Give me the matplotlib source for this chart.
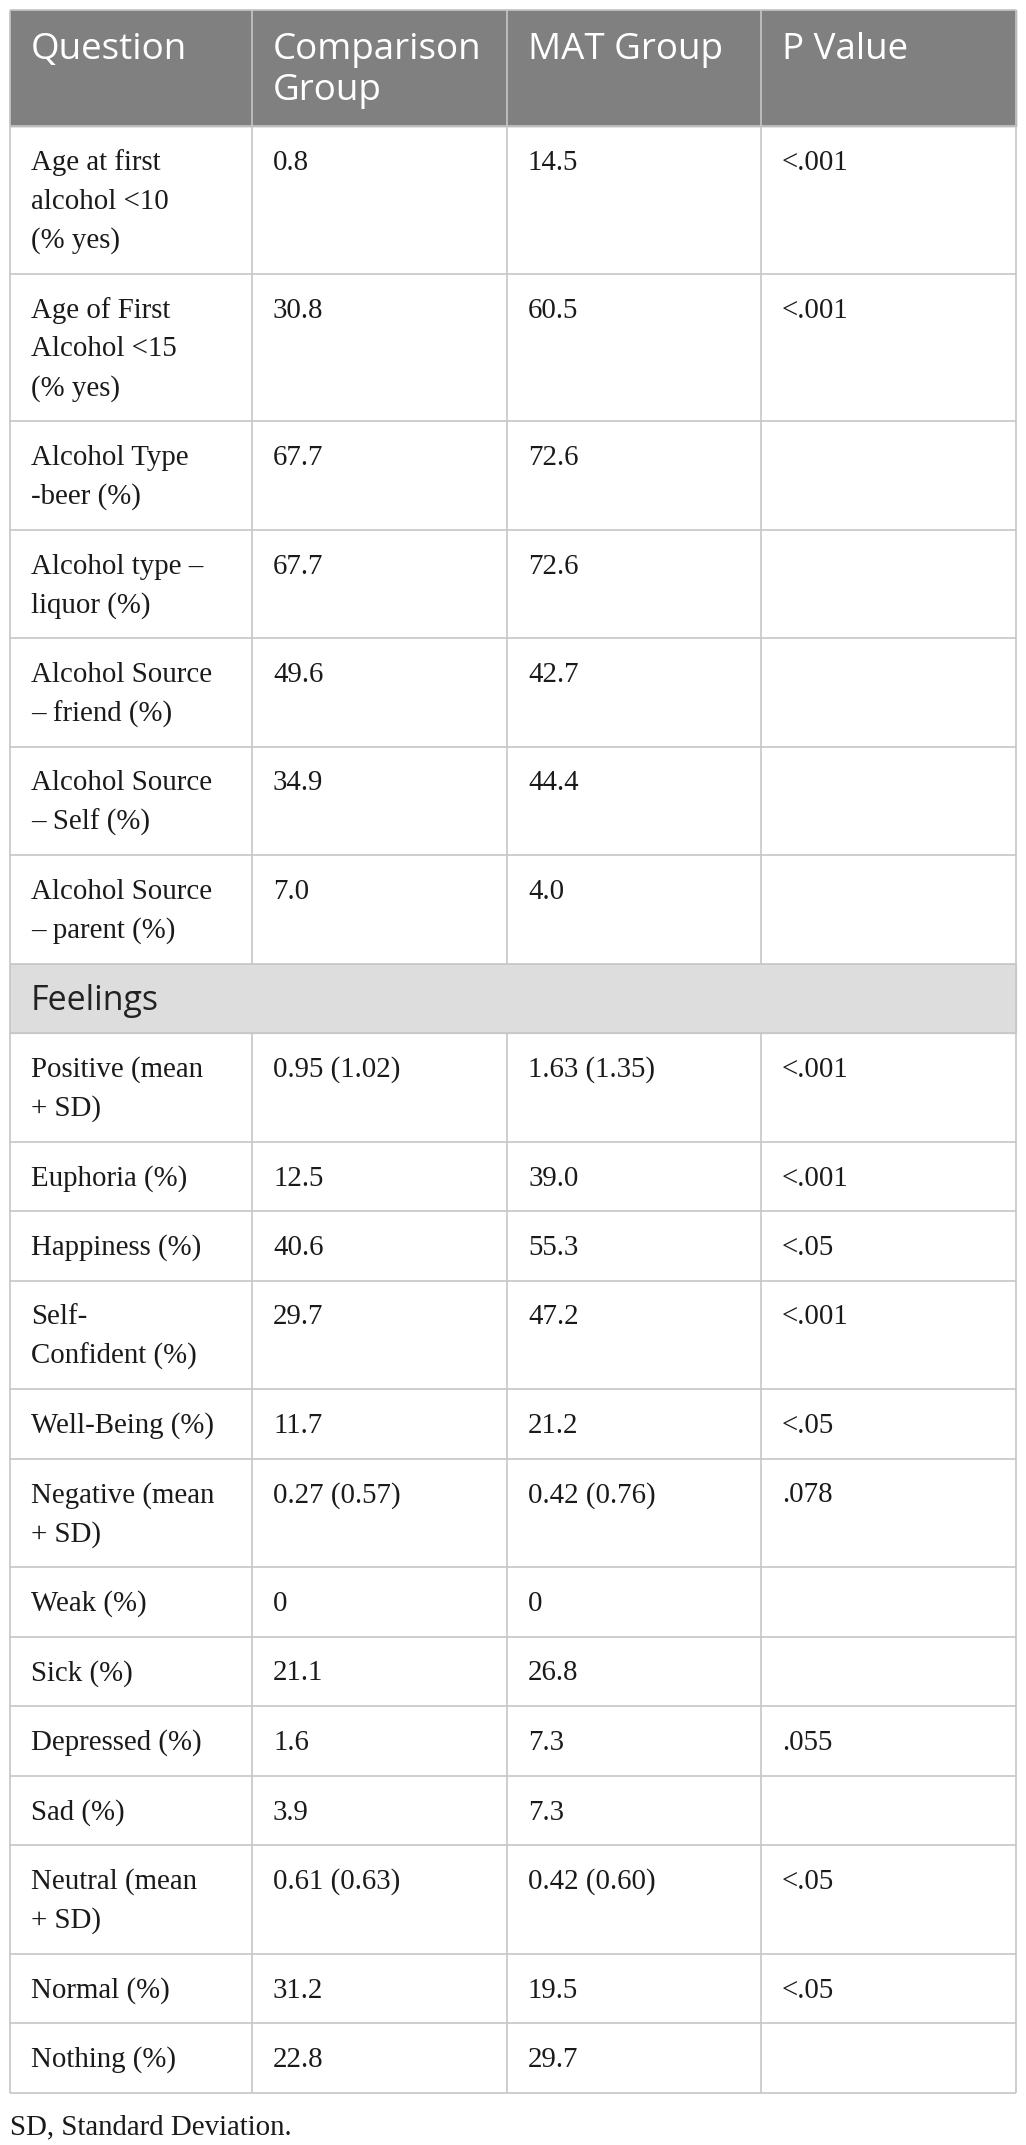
import matplotlib
matplotlib.use('Agg')
import matplotlib.pyplot as plt
from matplotlib.patches import Rectangle

# table content
header = ['Question', 'Comparison\nGroup', 'MAT Group', 'P Value']
questions = ['Age at first\nalcohol <10\n(% yes)', 'Age of First\nAlcohol <15\n(% yes)',
             'Alcohol Type\n-beer (%)', 'Alcohol type –\nliquor (%)', 'Alcohol Source\n– friend (%)',
             'Alcohol Source\n– Self (%)', 'Alcohol Source\n– parent (%)',
             'Positive (mean\n+ SD)', 'Euphoria (%)', 'Happiness (%)', 'Self-\nConfident (%)',
             'Well-Being (%)', 'Negative (mean\n+ SD)', 'Weak (%)', 'Sick (%)', 'Depressed (%)',
             'Sad (%)', 'Neutral (mean\n+ SD)', 'Normal (%)', 'Nothing (%)']
comparison = ['0.8', '30.8', '67.7', '67.7', '49.6', '34.9', '7.0',
              '0.95 (1.02)', '12.5', '40.6', '29.7', '11.7', '0.27 (0.57)', '0', '21.1', '1.6',
              '3.9', '0.61 (0.63)', '31.2', '22.8']
mat_group = ['14.5', '60.5', '72.6', '72.6', '42.7', '44.4', '4.0',
             '1.63 (1.35)', '39.0', '55.3', '47.2', '21.2', '0.42 (0.76)', '0', '26.8', '7.3',
             '7.3', '0.42 (0.60)', '19.5', '29.7']
p_values = ['<.001', '<.001', '', '', '', '', '',
            '<.001', '<.001', '<.05', '<.001', '<.05', '.078', '', '', '.055',
            '', '<.05', '<.05', '']
section_title = 'Feelings'
section_after = 7
footnote = 'SD, Standard Deviation.'

W, H = 1026, 2145
fig = plt.figure(figsize=(W / 100, H / 100), dpi=100)
ax = fig.add_axes([0, 0, 1, 1])
ax.set_xlim(0, W)
ax.set_ylim(H, 0)
ax.axis('off')

cols = [10, 252, 507, 761, 1016]
pad = 21
grid = '#c6c6c6'
sans = ['Open Sans', 'DejaVu Sans']
serif = ['Liberation Serif', 'DejaVu Serif']
body_fs = 20.8
head_fs = 26.5

# header
top = 10
head_h = 116
ax.add_patch(Rectangle((cols[0], top), cols[-1] - cols[0], head_h, color='#808080', zorder=0))
for j, txt in enumerate(header):
    for i, line in enumerate(txt.split('\n')):
        ax.text(cols[j] + pad, top + 40 + 41 * i, line, fontsize=head_fs, family=sans,
                color='white', va='center', ha='left')
y = top + head_h
hlines = [top, y]
section_span = None

def row_height(n):
    return 30.5 + 39 * n

for r in range(len(questions)):
    if r == section_after:
        h = row_height(1)
        ax.add_patch(Rectangle((cols[0], y), cols[-1] - cols[0], h, color='#dddddd', zorder=0))
        ax.text(cols[0] + pad, y + 37, section_title, fontsize=24.5, family=sans,
                color='#222222', va='center', ha='left')
        section_span = (y, y + h)
        y += h
        hlines.append(y)
    cells = [questions[r], comparison[r], mat_group[r], p_values[r]]
    n = max(c.count('\n') + 1 for c in cells)
    h = row_height(n)
    for j, txt in enumerate(cells):
        for i, line in enumerate(txt.split('\n')):
            if line:
                ax.text(cols[j] + pad, y + 37 + 39 * i, line, fontsize=body_fs, family=serif,
                        color='#1a1a1a', va='center', ha='left')
    y += h
    hlines.append(y)

for yy in hlines:
    ax.plot([cols[0], cols[-1]], [yy, yy], color=grid, lw=1.2, solid_capstyle='butt')
for k, xx in enumerate(cols):
    if k in (0, len(cols) - 1):
        ax.plot([xx, xx], [top, y], color=grid, lw=1.2, solid_capstyle='butt')
    else:
        ax.plot([xx, xx], [top, section_span[0]], color=grid, lw=1.2, solid_capstyle='butt')
        ax.plot([xx, xx], [section_span[1], y], color=grid, lw=1.2, solid_capstyle='butt')

ax.text(cols[0], y + 35, footnote, fontsize=body_fs, family=serif, color='#1a1a1a',
        va='center', ha='left')

fig.savefig('out.png', dpi=100)
